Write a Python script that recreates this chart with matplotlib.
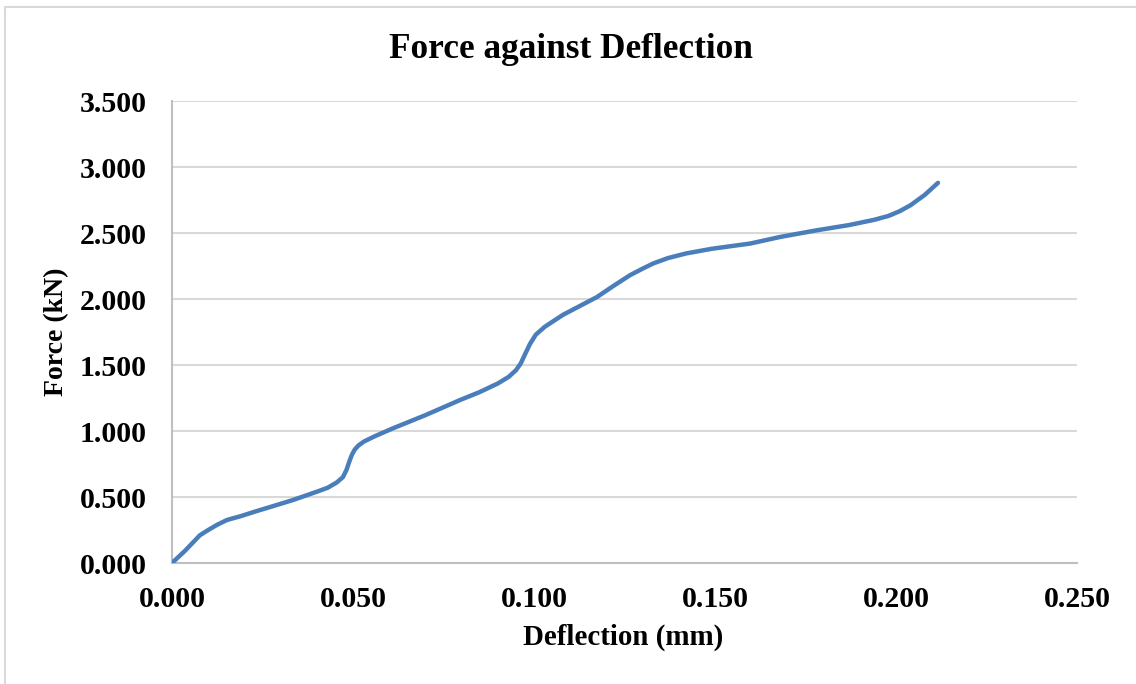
import matplotlib
matplotlib.use("Agg")
import matplotlib.pyplot as plt
from matplotlib.patches import Rectangle

# Load-deflection readings
deflection_mm = [0.000, 0.0035, 0.0077, 0.0100, 0.0125, 0.0152, 0.0190, 0.0230, 0.0290,
                 0.0334, 0.0400, 0.0430, 0.0455, 0.0472, 0.0482, 0.0490, 0.0497, 0.0505,
                 0.0515, 0.0530, 0.0560, 0.0610, 0.0700, 0.0796, 0.0850, 0.0900, 0.0930,
                 0.0950, 0.0963, 0.0975, 0.0989, 0.1005, 0.1030, 0.1080, 0.1174, 0.1220,
                 0.1265, 0.1300, 0.1330, 0.1370, 0.1420, 0.1490, 0.1597, 0.1680, 0.1780,
                 0.1870, 0.1940, 0.1980, 0.2010, 0.2040, 0.2080, 0.2116]
force_kN = [0.000, 0.090, 0.210, 0.250, 0.290, 0.326, 0.355, 0.390, 0.440,
            0.477, 0.540, 0.570, 0.610, 0.650, 0.705, 0.770, 0.820, 0.860,
            0.890, 0.920, 0.960, 1.020, 1.120, 1.235, 1.295, 1.360, 1.410,
            1.460, 1.510, 1.580, 1.660, 1.730, 1.790, 1.880, 2.015, 2.100,
            2.180, 2.230, 2.270, 2.310, 2.345, 2.380, 2.420, 2.470, 2.520,
            2.560, 2.600, 2.630, 2.665, 2.710, 2.790, 2.880]

x_ticks = [0.000, 0.050, 0.100, 0.150, 0.200, 0.250]
y_ticks = [0.000, 0.500, 1.000, 1.500, 2.000, 2.500, 3.000, 3.500]

plt.rcParams['font.family'] = ['Liberation Serif', 'DejaVu Serif']
plt.rcParams['font.weight'] = 'bold'

fig = plt.figure(figsize=(11.36, 6.84), dpi=100)
fig.patches.append(Rectangle((5 / 1136, -0.1), 1.2, 1 - 7 / 684 + 0.1,
                             transform=fig.transFigure, fill=False,
                             edgecolor='#d9d9d9', linewidth=1.5))

ax = fig.add_axes([172 / 1136, 1 - 563 / 684, (1077 - 172) / 1136, (563 - 101) / 684])
ax.plot(deflection_mm, force_kN, color='#4a7ebb', linewidth=3.2,
        solid_joinstyle='round', solid_capstyle='round', zorder=3)

ax.set_xlim(0, 0.25)
ax.set_ylim(0, 3.5)
ax.set_xticks(x_ticks)
ax.set_yticks(y_ticks)
ax.set_xticklabels([f"{v:.3f}" for v in x_ticks])
ax.set_yticklabels([f"{v:.3f}" for v in y_ticks])
ax.tick_params(axis='both', length=0, labelsize=21.5)
ax.tick_params(axis='x', pad=16.5)
ax.tick_params(axis='y', pad=18)
for lbl in ax.get_xticklabels() + ax.get_yticklabels():
    lbl.set_fontweight('bold')

ax.grid(axis='y', color='#d9d9d9', linewidth=1.5)
ax.set_axisbelow(True)
for side in ('top', 'right'):
    ax.spines[side].set_visible(False)
for side in ('left', 'bottom'):
    ax.spines[side].set_color('#bfbfbf')
    ax.spines[side].set_linewidth(1.5)

fig.text(571 / 1136, 1 - 49 / 684, "Force against Deflection", ha='center', va='center',
         fontsize=25.4, fontweight='bold')
fig.text(623 / 1136, 1 - 637 / 684, "Deflection (mm)", ha='center', va='center',
         fontsize=20.8, fontweight='bold')
fig.text(57 / 1136, 1 - 332 / 684, "Force (kN)", ha='center', va='center',
         rotation=90, fontsize=20, fontweight='bold')

fig.savefig("out.png", dpi=100, facecolor='white')
